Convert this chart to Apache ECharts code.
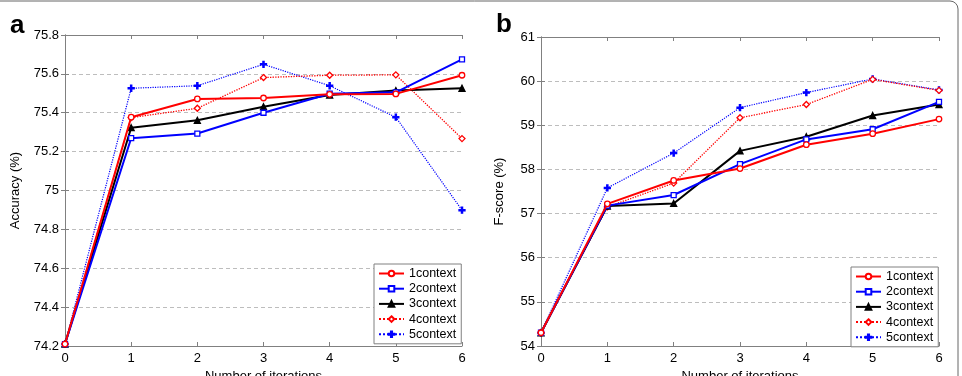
<!DOCTYPE html>
<html>
<head>
<meta charset="utf-8">
<script src="https://cdn.jsdelivr.net/npm/echarts@6/dist/echarts.min.js"></script>
<style>
  html, body { margin: 0; padding: 0; background: #fff; }
  #main { width: 962px; height: 376px; }
</style>
</head>
<body>
<div id="main"></div>
<script>
var iters = [0, 1, 2, 3, 4, 5, 6];
var seriesNames = ['1context', '2context', '3context', '4context', '5context'];

// accuracy (%) - panel a
var acc1 = [74.21, 75.377, 75.471, 75.476, 75.495, 75.497, 75.593];
var acc2 = [74.21, 75.269, 75.293, 75.400, 75.498, 75.505, 75.675];
var acc3 = [74.21, 75.323, 75.361, 75.431, 75.491, 75.514, 75.526];
var acc4 = [74.21, 75.375, 75.423, 75.581, 75.593, 75.595, 75.267];
var acc5 = [74.21, 75.526, 75.539, 75.649, 75.539, 75.377, 74.899];

// F-score (%) - panel b
var f1 = [54.3, 57.22, 57.75, 58.02, 58.56, 58.81, 59.14];
var f2 = [54.3, 57.18, 57.42, 58.12, 58.68, 58.91, 59.53];
var f3 = [54.3, 57.17, 57.23, 58.42, 58.74, 59.22, 59.47];
var f4 = [54.3, 57.15, 57.69, 59.17, 59.47, 60.04, 59.79];
var f5 = [54.3, 57.58, 58.37, 59.40, 59.74, 60.05, 59.80];

var plusPath = 'path://M4,0H6V4H10V6H6V10H4V6H0V4H4Z';
var styles = [
  {color: '#ff0000', type: 'solid', width: 2, symbol: 'circle', size: 5.5, fill: '#fff'},
  {color: '#0000ff', type: 'solid', width: 2, symbol: 'rect', size: 5, fill: '#fff'},
  {color: '#000000', type: 'solid', width: 2, symbol: 'triangle', size: 6, fill: '#000'},
  {color: '#ff0000', type: 'dotted', width: 1.3, symbol: 'diamond', size: 6, fill: '#fff'},
  {color: '#0000ff', type: 'dotted', width: 1.2, symbol: plusPath, size: 6, fill: '#0000ff'}
];

function pairs(arr){
  return arr.map(function(v, i){ return [iters[i], v]; });
}

function mkSeries(lists, idx){
  return lists.map(function(arr, k){
    var s = styles[k];
    return {
      name: seriesNames[k],
      type: 'line',
      xAxisIndex: idx * 2,
      yAxisIndex: idx * 2,
      data: pairs(arr),
      symbol: s.symbol,
      symbolSize: s.size,
      showAllSymbol: true,
      animation: false,
      z: 10 - k,
      lineStyle: {color: s.color, width: s.width, type: s.type},
      itemStyle: {color: s.fill, borderColor: s.color, borderWidth: 1.3}
    };
  });
}

var axisCol = '#808080';
var txt = {color: '#000', fontSize: 13, fontFamily: 'Liberation Sans, Arial, sans-serif'};

function xAxes(gi){
  return [{
    type: 'value', gridIndex: gi, min: 0, max: 6, interval: 1,
    name: 'Number of iterations', nameLocation: 'middle', nameGap: 17,
    nameTextStyle: txt,
    axisLine: {lineStyle: {color: axisCol}},
    axisTick: {inside: true, length: 4, lineStyle: {color: axisCol}},
    axisLabel: Object.assign({margin: 6}, txt),
    splitLine: {show: false}
  }, {
    type: 'value', gridIndex: gi, position: 'top', min: 0, max: 6, interval: 1,
    axisLine: {lineStyle: {color: axisCol}},
    axisTick: {inside: true, length: 4, lineStyle: {color: axisCol}},
    axisLabel: {show: false},
    splitLine: {show: false}
  }];
}

function yAxes(gi, name, gap, min, max, step, fmt){
  return [{
    type: 'value', gridIndex: gi, min: min, max: max, interval: step,
    name: name, nameLocation: 'middle', nameGap: gap,
    nameTextStyle: txt,
    axisLine: {show: true, lineStyle: {color: axisCol}},
    axisTick: {show: true, inside: true, length: 4, lineStyle: {color: axisCol}},
    axisLabel: Object.assign({margin: 6, formatter: fmt}, txt),
    splitLine: {show: true, lineStyle: {color: '#bdbdbd', type: [4, 3], width: 1}}
  }, {
    type: 'value', gridIndex: gi, position: 'right', min: min, max: max, interval: step,
    axisLine: {show: true, lineStyle: {color: axisCol}},
    axisTick: {show: true, inside: true, length: 4, lineStyle: {color: axisCol}},
    axisLabel: {show: false},
    splitLine: {show: false}
  }];
}

function accFmt(v){
  return (Math.round(v * 10) / 10).toString();
}

function legendAt(left, top){
  return {
    data: seriesNames,
    orient: 'vertical',
    left: left, top: top,
    itemWidth: 25, itemHeight: 7, itemGap: 2.2,
    padding: [3, 5, 3, 4],
    backgroundColor: '#fff',
    borderColor: '#808080', borderWidth: 1,
    textStyle: {color: '#000', fontSize: 12.5, fontFamily: 'Liberation Sans, Arial, sans-serif'}
  };
}

var chart = echarts.init(document.getElementById('main'));
var option = {
  backgroundColor: '#fff',
  animation: false,
  grid: [
    {left: 65, right: 500, top: 35, bottom: 30, outerBoundsMode: 'none'},
    {left: 541, right: 23, top: 37, bottom: 30, outerBoundsMode: 'none'}
  ],
  xAxis: xAxes(0).concat(xAxes(1)),
  yAxis: yAxes(0, 'Accuracy (%)', 43, 74.2, 75.8, 0.2, accFmt)
    .concat(yAxes(1, 'F-score (%)', 35, 54, 61, 1, null)),
  legend: [legendAt(374, 264), legendAt(851, 267)],
  graphic: [
    {type: 'text', left: 10, top: 13, style: {text: 'a', font: 'bold 26px Liberation Sans, Arial, sans-serif', fill: '#000'}},
    {type: 'text', left: 496, top: 12, style: {text: 'b', font: 'bold 26px Liberation Sans, Arial, sans-serif', fill: '#000'}},
    {type: 'rect', shape: {x: -20, y: 1, width: 978, height: 420, r: 8}, style: {fill: 'none', stroke: '#666', lineWidth: 1}, silent: true}
  ],
  series: mkSeries([acc1, acc2, acc3, acc4, acc5], 0)
    .concat(mkSeries([f1, f2, f3, f4, f5], 1))
};
chart.setOption(option);
</script>
</body>
</html>
